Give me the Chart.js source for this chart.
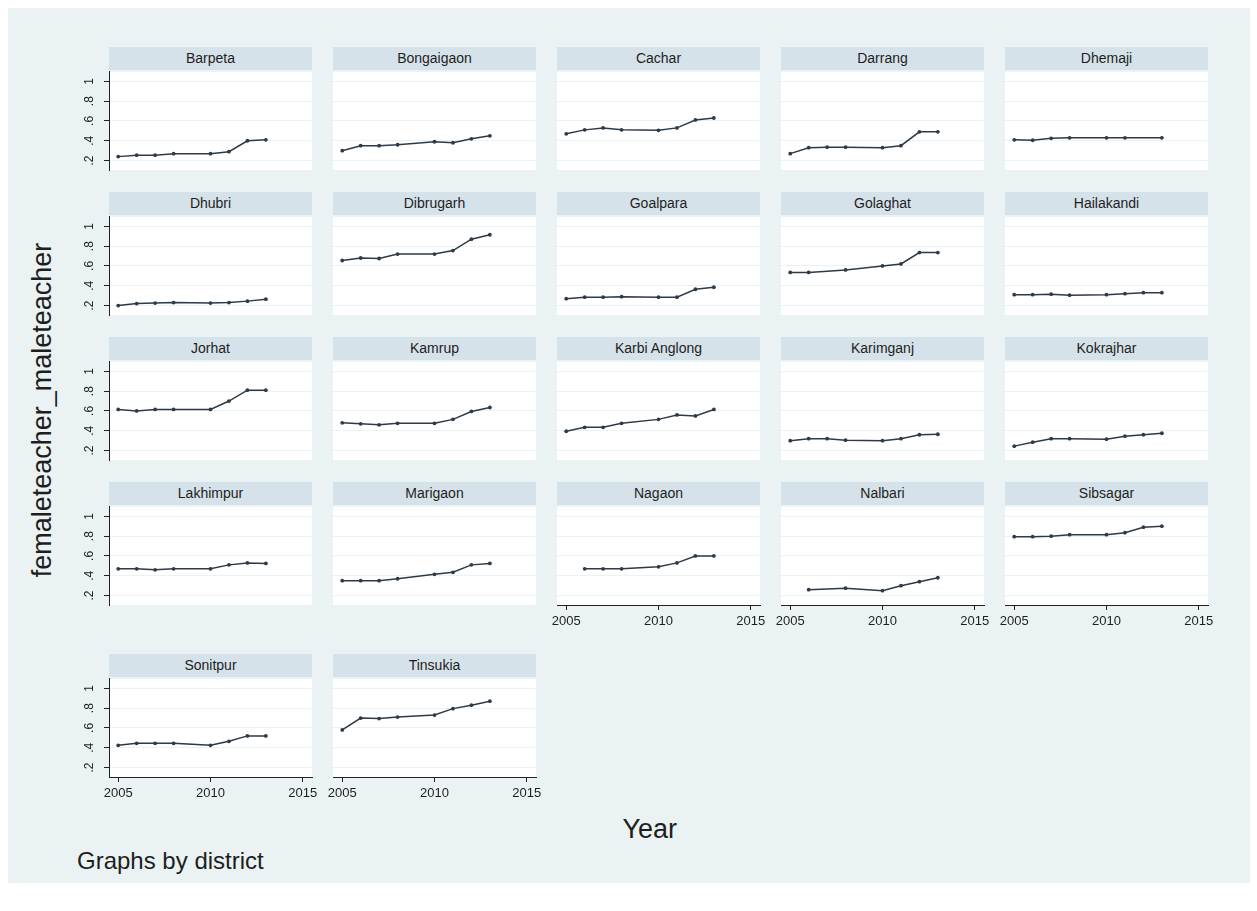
<!DOCTYPE html>
<html>
<head>
<meta charset="utf-8">
<title>femaleteacher_maleteacher by district</title>
<script src="https://cdn.jsdelivr.net/npm/chart.js@4.4.1/dist/chart.umd.min.js"></script>
<style>
  html, body { margin: 0; padding: 0; background: #fff; }
  body { width: 1257px; height: 911px; position: relative; overflow: hidden;
         font-family: "Liberation Sans", Arial, Helvetica, sans-serif; color: #1e1e1e; }
  #frame { position: absolute; left: 8px; top: 8px; width: 1242px; height: 875px; background: #eaf2f3; }
  canvas { position: absolute; }
  .strip { position: absolute; height: 23px; line-height: 23px; background: #d6e2e9;
           font-size: 14px; text-align: center; white-space: nowrap; }
  .ytitle { position: absolute; width: 500px; height: 32px; line-height: 32px; font-size: 27px;
            text-align: center; transform: rotate(-90deg); }
  .xtitle { position: absolute; font-size: 27px; line-height: 32px; }
  .note { position: absolute; font-size: 24px; line-height: 28px; }
</style>
</head>
<body>
<div id="frame"></div>
<div id="panels"></div>
<div class="ytitle" style="left:-208px; top:394px;">femaleteacher_maleteacher</div>
<div class="xtitle" id="xtitle" style="top:813px;">Year</div>
<div class="note" style="left:77px; top:847px;">Graphs by district</div>
<script>
// survey years (2009 is missing in the data)
const years = [2005, 2006, 2007, 2008, 2010, 2011, 2012, 2013];

const districts = ["Barpeta", "Bongaigaon", "Cachar", "Darrang", "Dhemaji",
  "Dhubri", "Dibrugarh", "Goalpara", "Golaghat", "Hailakandi",
  "Jorhat", "Kamrup", "Karbi Anglong", "Karimganj", "Kokrajhar",
  "Lakhimpur", "Marigaon", "Nagaon", "Nalbari", "Sibsagar",
  "Sonitpur", "Tinsukia"];

// female / male teacher ratio, one value per year above (null = no observation)
const barpeta      = [0.24, 0.255, 0.255, 0.27, 0.27, 0.29, 0.40, 0.41];
const bongaigaon   = [0.30, 0.35, 0.35, 0.36, 0.39, 0.38, 0.42, 0.45];
const cachar       = [0.47, 0.51, 0.53, 0.51, 0.505, 0.53, 0.61, 0.63];
const darrang      = [0.27, 0.33, 0.335, 0.335, 0.33, 0.35, 0.49, 0.49];
const dhemaji      = [0.41, 0.405, 0.425, 0.43, 0.43, 0.43, null, 0.43];
const dhubri       = [0.20, 0.22, 0.225, 0.23, 0.225, 0.23, 0.245, 0.265];
const dibrugarh    = [0.655, 0.68, 0.675, 0.72, 0.72, 0.755, 0.87, 0.915];
const goalpara     = [0.27, 0.285, 0.285, 0.29, 0.285, 0.285, 0.365, 0.385];
const golaghat     = [0.535, 0.535, null, 0.56, 0.60, 0.62, 0.735, 0.735];
const hailakandi   = [0.31, 0.31, 0.315, 0.305, 0.31, 0.32, 0.33, 0.33];
const jorhat       = [0.615, 0.60, 0.615, 0.615, 0.615, 0.70, 0.81, 0.81];
const kamrup       = [0.48, 0.47, 0.46, 0.475, 0.475, 0.515, 0.595, 0.635];
const karbiAnglong = [0.395, 0.435, 0.435, 0.475, 0.515, 0.56, 0.55, 0.615];
const karimganj    = [0.30, 0.32, 0.32, 0.305, 0.30, 0.32, 0.36, 0.365];
const kokrajhar    = [0.245, 0.285, 0.32, 0.32, 0.315, 0.345, 0.36, 0.375];
const lakhimpur    = [0.47, 0.47, 0.46, 0.47, 0.47, 0.51, 0.53, 0.525];
const marigaon     = [0.35, 0.35, 0.35, 0.37, 0.415, 0.435, 0.51, 0.525];
const nagaon       = [null, 0.47, 0.47, 0.47, 0.49, 0.53, 0.60, 0.60];
const nalbari      = [null, 0.26, null, 0.275, 0.25, 0.30, 0.34, 0.38];
const sibsagar     = [0.795, 0.795, 0.80, 0.815, 0.815, 0.835, 0.89, 0.90];
const sonitpur     = [0.425, 0.445, 0.445, 0.445, 0.425, 0.465, 0.52, 0.52];
const tinsukia     = [0.58, 0.70, 0.695, 0.71, 0.73, 0.795, 0.83, 0.87];

const series = [barpeta, bongaigaon, cachar, darrang, dhemaji,
  dhubri, dibrugarh, goalpara, golaghat, hailakandi,
  jorhat, kamrup, karbiAnglong, karimganj, kokrajhar,
  lakhimpur, marigaon, nagaon, nalbari, sibsagar,
  sonitpur, tinsukia];

const yTicks = [0.2, 0.4, 0.6, 0.8, 1];
const yTickLabels = [".2", ".4", ".6", ".8", "1"];
const xTicks = [2005, 2010, 2015];

// layout of the 5-column grid
const colLeft = [109, 333, 557, 781, 1005];
const rowTop = [47, 192, 337, 482, 654];
const plotW = 203, plotH = 100, stripH = 23;
const padL = 45, padR = 16, padB = 30;

const FONT = '"Liberation Sans", Arial, Helvetica, sans-serif';
const LINE = "#2e3a46";
const AXIS = "#222";
const GRID = "#eaf2f3";
const TEXT = "#1e1e1e";

const plotBg = {
  id: "plotBg",
  beforeDraw(chart) {
    const a = chart.chartArea, ctx = chart.ctx;
    ctx.save();
    ctx.fillStyle = "#fff";
    ctx.fillRect(a.left, a.top, a.right - a.left, a.bottom - a.top);
    ctx.restore();
  },
};

// Stata draws the y labels turned on their side
const yLabels = {
  id: "yLabels",
  afterDraw(chart) {
    const s = chart.scales.y, ctx = chart.ctx;
    ctx.save();
    ctx.fillStyle = TEXT;
    ctx.font = "12px " + FONT;
    ctx.textAlign = "center";
    ctx.textBaseline = "middle";
    yTicks.forEach((v, i) => {
      ctx.save();
      ctx.translate(chart.chartArea.left - 19, s.getPixelForValue(v));
      ctx.rotate(-Math.PI / 2);
      ctx.fillText(yTickLabels[i], 0, 0);
      ctx.restore();
    });
    ctx.restore();
  },
};

const holder = document.getElementById("panels");

districts.forEach((name, i) => {
  const row = Math.floor(i / 5), col = i % 5;
  const hasY = col === 0;
  const hasX = row === 4 || (row === 3 && col >= 2);
  const left = colLeft[col], top = rowTop[row] + stripH;

  const canvas = document.createElement("canvas");
  canvas.width = padL + plotW + padR;
  canvas.height = plotH + padB;
  canvas.style.left = (left - padL) + "px";
  canvas.style.top = top + "px";
  holder.appendChild(canvas);

  const strip = document.createElement("div");
  strip.className = "strip";
  strip.style.left = left + "px";
  strip.style.top = rowTop[row] + "px";
  strip.style.width = plotW + "px";
  strip.textContent = name;
  holder.appendChild(strip);

  const pts = years
    .map((yr, k) => ({ x: yr, y: series[i][k] }))
    .filter((p) => p.y !== null);

  new Chart(canvas, {
    type: "line",
    data: {
      datasets: [{
        data: pts,
        borderColor: LINE,
        backgroundColor: LINE,
        borderWidth: 1.5,
        pointRadius: 1.9,
        pointBorderWidth: 0,
        pointHoverRadius: 1.9,
        tension: 0,
      }],
    },
    options: {
      responsive: false,
      animation: false,
      events: [],
      layout: { padding: { left: 0, right: padR, top: 0, bottom: 0 } },
      plugins: { legend: { display: false }, tooltip: { enabled: false } },
      scales: {
        x: {
          type: "linear",
          min: 2004.5,
          max: 2015.5,
          afterBuildTicks: (s) => { s.ticks = xTicks.map((v) => ({ value: v })); },
          afterFit: (s) => { s.height = padB; },
          grid: { display: hasX, drawOnChartArea: false, drawTicks: hasX, tickLength: 5, tickColor: AXIS },
          border: { display: hasX, color: AXIS, width: 1 },
          ticks: {
            display: hasX, color: TEXT, padding: 4, maxRotation: 0, autoSkip: false,
            font: { size: 13, family: FONT },
            callback: (v) => String(v),
          },
        },
        y: {
          type: "linear",
          min: 0.105,
          max: 1.095,
          afterBuildTicks: (s) => { s.ticks = yTicks.map((v) => ({ value: v })); },
          afterFit: (s) => { s.width = padL; },
          grid: { color: GRID, lineWidth: 1, drawTicks: hasY, tickLength: 5, tickColor: AXIS },
          border: { display: hasY, color: AXIS, width: 1 },
          ticks: { display: false },
        },
      },
    },
    plugins: hasY ? [plotBg, yLabels] : [plotBg],
  });
});

// centre the x title under the grid of plots
const xt = document.getElementById("xtitle");
xt.style.left = (650 - xt.offsetWidth / 2) + "px";
</script>
</body>
</html>
